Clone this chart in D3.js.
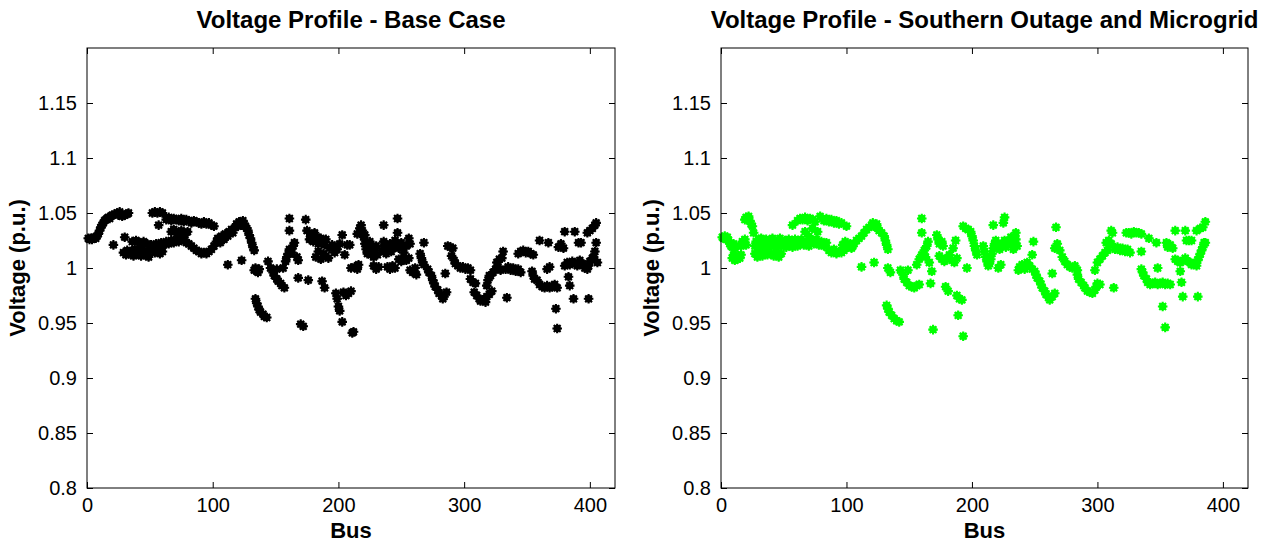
<!DOCTYPE html>
<html>
<head>
<meta charset="utf-8">
<script src="https://cdn.jsdelivr.net/npm/d3@7"></script>
<style>
  body { margin: 0; background: #fff; }
  text { font-family: "Liberation Sans", Arial, sans-serif; fill: #000; }
</style>
</head>
<body>
<svg id="chart" width="1278" height="548"></svg>
<script>
// bus number, voltage (p.u.)
const baseCase = [
  [1,1.027],[2,1.026],[3,1.027],[4,1.026],[5,1.027],[6,1.028],[7,1.027],[8,1.029],
  [9,1.031],[10,1.034],[11,1.037],[12,1.039],[13,1.041],[14,1.043],[15,1.044],[16,1.045],[17,1.046],[18,1.045],[19,1.047],[20,1.048],
  [22,1.049],[24,1.050],[25,1.048],[26,1.051],[27,1.049],[28,1.047],[30,1.048],[32,1.049],[33,1.050],
  [21,1.021],
  [29,1.014],[30,1.028],[31,1.012],[32,1.016],[33,1.013],[35,1.015],[36,1.024],[37,1.011],[38,1.017],[39,1.025],[40,1.013],
  [41,1.016],[42,1.023],[43,1.011],[44,1.018],[45,1.024],[46,1.012],[47,1.014],[48,1.022],[49,1.010],[50,1.017],[51,1.021],
  [52,1.050],[54,1.051],[56,1.050],[58,1.051],[60,1.050],[57,1.039],
  [63,1.044],[65,1.046],[67,1.043],[69,1.045],[71,1.044],[73,1.043],[75,1.045],[77,1.042],[79,1.044],[81,1.043],
  [83,1.041],[85,1.043],[87,1.042],[89,1.041],[91,1.040],[93,1.042],[95,1.040],[97,1.041],[99,1.039],[101,1.038],
  [67,1.033],[69,1.035],[72,1.032],[75,1.034],[78,1.030],[80,1.033],
  [53,1.020],[55,1.022],[57,1.019],[59,1.023],[61,1.021],[63,1.024],[65,1.022],[67,1.025],[69,1.023],[71,1.026],
  [73,1.024],[75,1.027],[77,1.025],[79,1.023],[81,1.022],[83,1.020],[85,1.018],[87,1.016],[89,1.015],[91,1.013],
  [93,1.014],[95,1.013],[97,1.015],[99,1.017],[101,1.020],[103,1.024],
  [54,1.014],[56,1.016],[58,1.013],[60,1.015],
  [104,1.027],[106,1.023],[107,1.029],[109,1.026],[110,1.031],[112,1.029],[113,1.033],[115,1.035],[116,1.032],[118,1.037],
  [119,1.040],[120,1.038],[121,1.042],[122,1.041],[123,1.039],[124,1.043],[125,1.040],[126,1.038],[127,1.036],[128,1.034],
  [129,1.030],[130,1.027],[131,1.023],[132,1.019],[133,1.016],
  [112,1.003],[123,1.007],
  [133,0.998],[134,1.000],[136,0.996],[137,0.999],
  [134,0.972],[135,0.968],[136,0.965],[137,0.962],[138,0.960],[140,0.958],[141,0.956],[143,0.955],
  [144,1.006],[146,1.000],[148,0.996],[149,0.993],[151,0.990],[152,0.988],[154,0.986],[155,0.984],[157,0.982],[151,0.999],
  [156,1.000],[158,1.006],[159,1.010],[160,1.013],[161,1.017],[163,1.014],[164,1.020],[165,1.023],[167,1.010],[168,1.007],
  [161,1.045],[161,1.034],[174,1.044],[175,1.034],[168,0.991],[176,0.989],[170,0.949],[172,0.947],
  [177,1.026],[178,1.030],[180,1.024],[181,1.032],[183,1.028],[184,1.022],[186,1.027],[187,1.024],[189,1.021],[190,1.026],
  [182,1.010],[184,1.015],[186,1.008],[188,1.013],[190,1.011],[192,1.009],
  [187,0.988],[189,0.982],
  [193,1.018],[195,1.021],[197,1.014],[199,1.017],[201,1.022],[203,1.030],[205,1.012],[207,1.021],
  [198,0.977],[199,0.972],[200,0.965],[201,0.961],[203,0.951],[204,0.978],[206,0.975],[208,0.977],[210,0.979],[211,0.941],[212,0.942],
  [209,1.021],[210,1.000],
  [213,1.001],[215,0.999],[216,1.003],
  [215,1.031],[217,1.036],[218,1.039],[219,1.034],[220,1.028],[221,1.030],
  [221,1.022],[222,1.017],[223,1.013],[224,1.019],[225,1.024],[226,1.012],[227,1.016],[228,1.010],[229,1.014],[230,1.020],[231,1.012],
  [228,1.002],[230,0.999],[232,1.001],
  [236,1.039],[236,1.024],[247,1.045],[247,1.032],
  [235,1.016],[237,1.020],[238,1.013],[240,1.018],[241,1.022],[242,1.015],[244,1.019],[245,1.025],[246,1.021],[248,1.018],
  [250,1.023],[251,1.019],[252,1.014],[254,1.020],[256,1.027],[257,1.022],
  [239,1.001],[241,0.999],[243,1.002],[245,1.000],
  [248,1.008],[250,1.006],[252,1.008],[254,1.007],[256,1.009],
  [257,0.998],[259,0.996],[261,1.000],[262,0.994],
  [268,1.023],[265,1.013],[266,1.009],[267,1.005],[268,1.003],
  [271,0.999],[272,0.996],[274,0.993],
  [275,0.989],[276,0.986],[277,0.983],[279,0.980],[280,0.977],[282,0.975],[283,0.972],[284,0.974],[286,0.978],[285,0.995],
  [287,1.020],[289,1.019],[291,1.018],
  [290,1.011],[292,1.007],[293,1.004],[295,1.002],[297,1.000],[299,1.001],[301,0.999],[303,1.000],[305,0.998],
  [305,0.990],[307,0.987],[309,0.986],
  [308,0.978],[310,0.975],[312,0.972],[313,0.970],[315,0.971],[317,0.969],[318,0.974],[320,0.976],[322,0.979],[318,0.984],[320,0.993],
  [319,0.989],[321,0.993],[323,0.996],[325,0.999],[327,1.001],[329,0.998],
  [326,1.005],[328,1.008],[330,1.009],[331,1.015],[334,0.973],
  [333,0.999],[335,1.001],[337,0.998],[339,1.000],[341,0.997],[343,0.999],[345,0.996],
  [343,1.013],[345,1.015],[347,1.016],[349,1.014],[351,1.015],[353,1.013],[355,1.012],
  [354,0.997],[355,0.993],[356,0.990],[358,0.989],
  [360,1.025],[367,1.023],
  [360,0.985],[362,0.983],[364,0.982],[366,0.984],[368,0.982],[370,0.983],[372,0.985],[374,0.982],
  [366,0.999],[368,1.001],[373,0.963],[374,0.945],
  [375,1.019],[377,1.022],[379,1.018],[380,1.033],[388,1.033],
  [383,0.992],[384,0.984],[387,0.972],
  [380,1.002],[382,1.005],[384,1.003],[386,1.006],[388,1.004],[390,1.002],
  [391,1.023],[393,1.023],
  [392,1.007],[394,1.004],[396,1.000],[398,0.999],[399,1.002],[400,1.006],[402,1.009],[403,1.010],
  [398,1.032],[400,1.034],[402,1.036],[404,1.039],[405,1.041],
  [399,0.972],[405,1.023],[404,1.015],[406,1.005]
];

const microgrid = [
  [1,1.028],[2,1.027],[3,1.029],[4,1.026],[5,1.028],[6,1.025],
  [7,1.022],[8,1.020],[9,1.019],[10,1.022],[11,1.018],[12,1.020],
  [9,1.009],[10,1.012],[11,1.007],[12,1.010],[13,1.008],[14,1.011],[15,1.009],[16,1.012],
  [16,1.020],[17,1.024],[18,1.022],[19,1.026],[20,1.021],
  [19,1.044],[20,1.046],[21,1.045],[22,1.047],[23,1.043],[24,1.040],[25,1.038],
  [26,1.032],
  [27,1.020],[28,1.024],[29,1.018],[30,1.026],[31,1.022],[32,1.027],[33,1.019],[34,1.024],[35,1.021],[36,1.026],
  [37,1.023],[38,1.019],[39,1.025],[40,1.022],[41,1.027],[42,1.020],[43,1.024],[44,1.018],[45,1.025],[46,1.022],
  [47,1.027],[48,1.020],[49,1.024],[50,1.021],[51,1.025],[52,1.019],[53,1.023],[54,1.026],[55,1.021],[56,1.024],
  [57,1.019],[58,1.022],[59,1.026],[60,1.023],[61,1.020],
  [27,1.013],[29,1.010],[31,1.014],[33,1.011],[35,1.015],[37,1.012],[40,1.013],[42,1.011],[44,1.014],[46,1.010],[48,1.013],
  [57,1.039],
  [61,1.043],[63,1.045],[65,1.044],[67,1.046],[69,1.043],[71,1.045],[73,1.044],[75,1.042],
  [67,1.033],[70,1.029],[73,1.036],[77,1.033],
  [62,1.022],[64,1.026],[66,1.021],[68,1.024],[70,1.020],[72,1.025],[74,1.022],[76,1.026],[78,1.021],[80,1.024],[82,1.020],[84,1.023],
  [79,1.047],[82,1.043],[84,1.045],[86,1.042],[88,1.044],[90,1.041],[92,1.043],[94,1.040],[96,1.041],
  [86,1.016],[88,1.014],[90,1.017],[92,1.013],[94,1.015],[96,1.014],[98,1.016],
  [100,1.038],
  [97,1.021],[99,1.024],[101,1.019],[103,1.022],[105,1.020],
  [104,1.018],[106,1.022],[108,1.025],[110,1.027],[112,1.029],[114,1.032],[116,1.035],[118,1.037],[120,1.039],[121,1.041],
  [122,1.038],[124,1.040],[125,1.036],[126,1.034],[128,1.032],[130,1.029],[131,1.025],[132,1.021],[133,1.017],
  [112,1.001],[122,1.005],[133,1.000],[135,0.996],
  [132,0.966],[133,0.963],[134,0.960],[136,0.957],[138,0.954],[140,0.952],[142,0.951],
  [143,0.998],[145,0.994],[146,0.990],[148,0.987],[149,0.998],[150,0.984],[152,0.983],[154,0.982],[156,0.984],[158,0.985],
  [156,1.003],[158,1.008],[160,1.012],[162,1.016],[164,1.020],[165,1.024],[163,1.010],[166,1.005],[168,0.997],
  [160,1.045],[160,1.032],[167,0.986],[169,0.944],
  [172,1.030],[173,1.026],[174,1.022],[176,1.024],[177,1.020],
  [174,1.011],[176,1.008],[178,1.006],[180,1.009],[182,1.012],[184,1.007],[186,1.005],[188,1.009],
  [179,0.983],[181,0.979],
  [185,1.018],[187,1.025],
  [188,0.975],[190,0.972],[192,0.971],[189,0.957],[193,0.938],
  [193,1.038],[195,1.036],[197,1.035],[199,1.033],[200,1.029],[201,1.025],[202,1.020],[203,1.016],[204,1.012],
  [196,1.000],
  [209,1.020],[210,1.015],[211,1.010],[212,1.006],[213,1.002],[214,1.004],[215,1.008],[216,1.013],[217,1.018],[218,1.022],
  [219,1.025],[221,1.021],[222,1.017],
  [217,1.039],[225,1.041],[226,1.046],
  [221,1.000],[223,1.003],
  [224,1.022],[226,1.025],[227,1.019],[229,1.024],[231,1.028],[232,1.022],[233,1.017],[235,1.026],[235,1.032],[236,1.020],
  [237,0.998],[238,1.001],[240,1.003],[242,0.999],[244,1.005],[246,1.002],[248,0.999],
  [248,1.012],[249,1.024],
  [250,0.997],[251,0.994],[252,0.991],[254,0.988],
  [255,0.985],[256,0.982],[258,0.979],[259,0.976],[261,0.973],[262,0.971],[264,0.974],[266,0.977],[264,0.995],
  [267,1.037],
  [266,1.018],[268,1.022],[270,1.016],
  [272,1.010],[274,1.006],[276,1.003],[278,1.001],[280,1.000],[282,1.002],[284,0.998],
  [284,0.994],[285,0.990],[287,0.987],[289,0.984],
  [290,0.982],[292,0.979],[294,0.978],[296,0.977],[298,0.980],[299,0.983],[300,0.986],[302,0.985],
  [298,0.998],
  [300,1.005],[302,1.008],[304,1.011],[306,1.014],[308,1.016],
  [307,1.023],[309,1.025],[311,1.022],
  [311,1.034],[312,1.032],
  [313,0.982],
  [314,1.017],[316,1.019],[318,1.016],[320,1.018],[322,1.015],[324,1.017],[326,1.014],
  [323,1.032],[325,1.032],[327,1.031],[329,1.033],[331,1.032],[333,1.032],[335,1.031],
  [335,1.015],
  [335,0.999],[336,0.996],[337,0.993],[339,0.990],[340,0.987],[342,0.985],[344,0.986],[346,0.987],[348,0.985],[350,0.986],
  [352,0.987],[354,0.985],[356,0.986],[358,0.985],
  [341,1.027],[347,1.023],[348,1.000],
  [352,0.965],[354,0.946],
  [355,1.023],[356,1.019],[358,1.021],[360,1.018],
  [362,1.034],
  [362,1.008],[364,1.006],[366,1.005],[368,1.007],[370,1.009],[372,1.006],[374,1.005],
  [366,0.997],[367,0.987],[368,0.974],
  [370,1.034],[371,1.025],[373,1.025],[375,1.025],
  [375,1.003],[377,1.004],[379,1.002],
  [379,1.034],[380,0.974],
  [380,1.007],[381,1.010],[382,1.013],[383,1.016],[384,1.019],[385,1.023],[386,1.023],
  [382,1.036],[384,1.037],[386,1.042]
];

const titles = ["Voltage Profile - Base Case", "Voltage Profile - Southern Outage and Microgrid"];
const colors = ["#000000", "#00ff00"];
const busTicks = [0, 100, 200, 300, 400];
const voltTicks = [0.8, 0.85, 0.9, 0.95, 1, 1.05, 1.1, 1.15];

const svg = d3.select("#chart");
const panels = [
  {data: baseCase, left: 87, right: 615},
  {data: microgrid, left: 721, right: 1248}
];
const plotTop = 48, plotBottom = 488, tickLen = 6;

// asterisk-like marker (filled core + 8 arms)
function marker(r) {
  const p = d3.path();
  for (let k = 0; k < 4; k++) {
    const a = k * Math.PI / 4;
    p.moveTo(-r * Math.cos(a), -r * Math.sin(a));
    p.lineTo(r * Math.cos(a), r * Math.sin(a));
  }
  return p.toString();
}
const armPath = marker(4.8);

panels.forEach(function (pn, i) {
  const x = d3.scaleLinear().domain([0, 420]).range([pn.left, pn.right]);
  const y = d3.scaleLinear().domain([0.8, 1.2]).range([plotBottom, plotTop]);
  const g = svg.append("g");

  // points
  const pts = g.append("g");
  pts.selectAll("circle")
    .data(pn.data)
    .enter()
    .append("circle")
    .attr("cx", d => x(d[0]))
    .attr("cy", d => y(d[1]))
    .attr("r", 3.7)
    .attr("fill", colors[i]);
  pts.selectAll("path")
    .data(pn.data)
    .enter()
    .append("path")
    .attr("d", armPath)
    .attr("transform", d => "translate(" + x(d[0]) + "," + y(d[1]) + ")")
    .attr("stroke", colors[i])
    .attr("stroke-width", 2.1)
    .attr("fill", "none");

  // axes with inward ticks, mirrored on top/right
  const fmt = d => String(+d.toFixed(2));
  g.append("g")
    .attr("transform", "translate(0," + plotBottom + ")")
    .call(d3.axisBottom(x).tickValues(busTicks).tickSizeInner(-tickLen).tickSizeOuter(0).tickPadding(10).tickFormat(fmt));
  g.append("g")
    .attr("transform", "translate(0," + plotTop + ")")
    .call(d3.axisTop(x).tickValues(busTicks).tickSizeInner(-tickLen).tickSizeOuter(0).tickFormat(""));
  g.append("g")
    .attr("transform", "translate(" + pn.left + ",0)")
    .call(d3.axisLeft(y).tickValues(voltTicks).tickSizeInner(-tickLen).tickSizeOuter(0).tickPadding(10).tickFormat(fmt));
  g.append("g")
    .attr("transform", "translate(" + pn.right + ",0)")
    .call(d3.axisRight(y).tickValues(voltTicks).tickSizeInner(-tickLen).tickSizeOuter(0).tickFormat(""));
  g.selectAll(".domain").remove();
  g.selectAll(".tick line").attr("stroke", "#000");
  g.selectAll(".tick text")
    .style("font-family", "'Liberation Sans', Arial, sans-serif")
    .style("font-size", "20px")
    .attr("fill", "#000");

  g.append("rect")
    .attr("x", pn.left).attr("y", plotTop)
    .attr("width", pn.right - pn.left).attr("height", plotBottom - plotTop)
    .attr("fill", "none").attr("stroke", "#000").attr("stroke-width", 1);

  const cx = (pn.left + pn.right) / 2;
  g.append("text")
    .attr("x", cx).attr("y", 28)
    .attr("text-anchor", "middle")
    .style("font-size", "24px").style("font-weight", "bold")
    .text(titles[i]);
  g.append("text")
    .attr("x", cx).attr("y", 538)
    .attr("text-anchor", "middle")
    .style("font-size", "22px").style("font-weight", "bold")
    .text("Bus");
  g.append("text")
    .attr("transform", "translate(" + (pn.left - 62) + "," + ((plotTop + plotBottom) / 2) + ") rotate(-90)")
    .attr("text-anchor", "middle")
    .style("font-size", "22px").style("font-weight", "bold")
    .text("Voltage (p.u.)");
});
</script>
</body>
</html>
